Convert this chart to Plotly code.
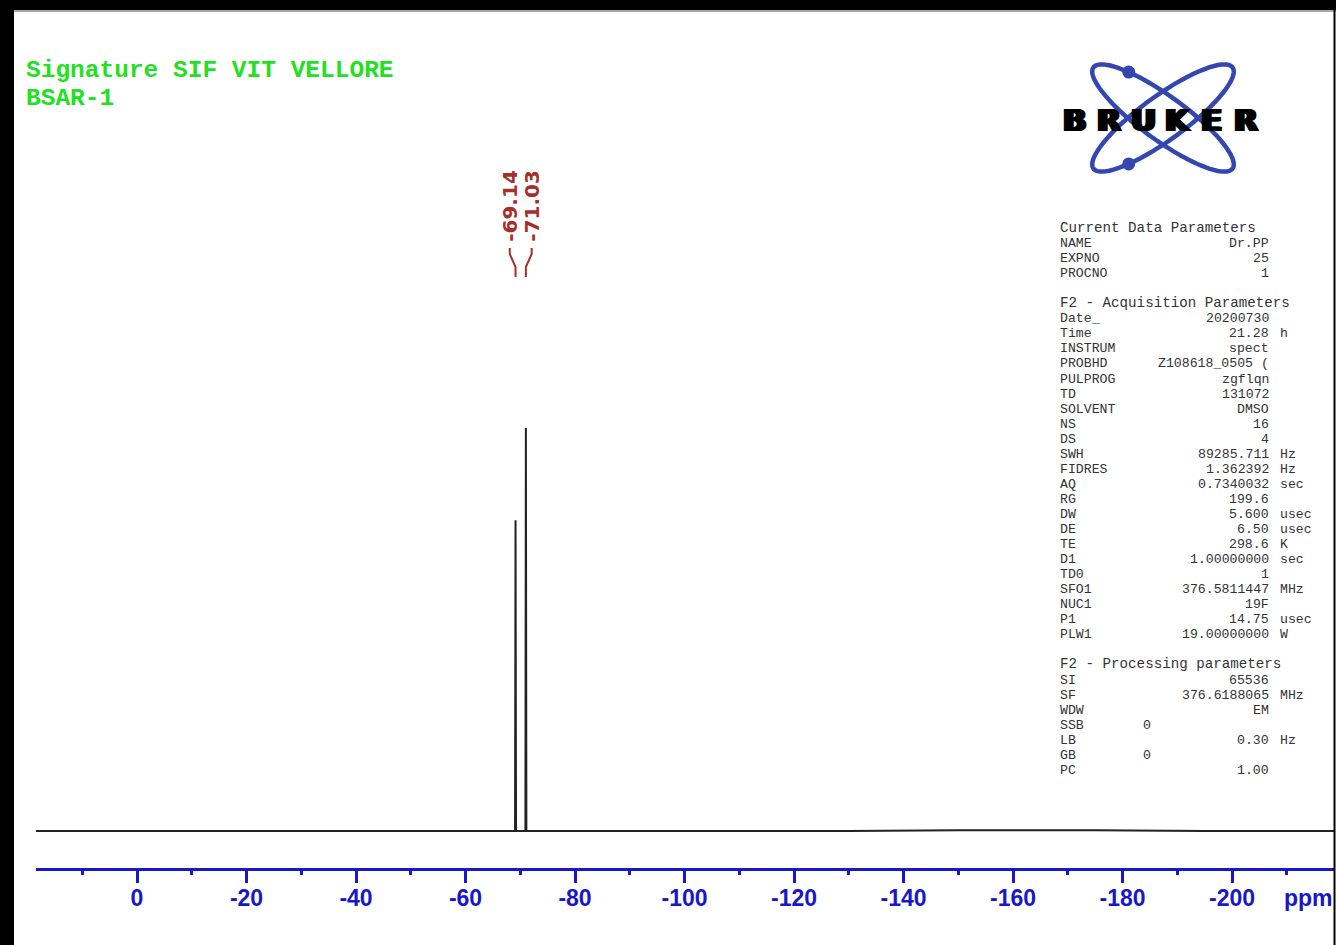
import numpy as np
import plotly.graph_objects as go

# ---------------- spectrum data (19F, ppm) ----------------
ppm = [18.45, -69.05, -69.14, -69.23, -70.94, -71.03, -71.12, -130.0, -150.0, -175.0, -195.0, -218.81]
intensity = [0.0, 0.0, 0.771, 0.0, 0.0, 1.0, 0.0, 0.0, 0.002, 0.002, 0.0, 0.0]

peak_ppm = [-69.14, -71.03]

tick_vals = [0, -20, -40, -60, -80, -100, -120, -140, -160, -180, -200]
tick_text = [str(v) for v in tick_vals]

title_lines = ["Signature SIF VIT VELLORE", "BSAR-1"]

# parameter listing: (name, value, unit); None marks a blank line
params = [
    ("Current Data Parameters", None, None),
    ("NAME", "Dr.PP", ""),
    ("EXPNO", "25", ""),
    ("PROCNO", "1", ""),
    None,
    ("F2 - Acquisition Parameters", None, None),
    ("Date_", "20200730", ""),
    ("Time", "21.28", "h"),
    ("INSTRUM", "spect", ""),
    ("PROBHD", "Z108618_0505 (", ""),
    ("PULPROG", "zgflqn", ""),
    ("TD", "131072", ""),
    ("SOLVENT", "DMSO", ""),
    ("NS", "16", ""),
    ("DS", "4", ""),
    ("SWH", "89285.711", "Hz"),
    ("FIDRES", "1.362392", "Hz"),
    ("AQ", "0.7340032", "sec"),
    ("RG", "199.6", ""),
    ("DW", "5.600", "usec"),
    ("DE", "6.50", "usec"),
    ("TE", "298.6", "K"),
    ("D1", "1.00000000", "sec"),
    ("TD0", "1", ""),
    ("SFO1", "376.5811447", "MHz"),
    ("NUC1", "19F", ""),
    ("P1", "14.75", "usec"),
    ("PLW1", "19.00000000", "W"),
    None,
    ("F2 - Processing parameters", None, None),
    ("SI", "65536", ""),
    ("SF", "376.6188065", "MHz"),
    ("WDW", "EM", ""),
    ("SSB", "0", "left"),
    ("LB", "0.30", "Hz"),
    ("GB", "0", "left"),
    ("PC", "1.00", ""),
]

# ---------------- page geometry (pixels) ----------------
W, H = 1336, 945
AX_LEFT, AX_RIGHT = 36, 1335          # horizontal extent of the ppm axis
ZERO_PX, PX_PER_PPM = 137, 5.475      # 0 ppm position and scale
AXIS_Y, BASE_Y, TOP_Y = 868, 831, 428  # axis line, baseline, tallest peak
PLOT_TOP = 100

x_left = (ZERO_PX - AX_LEFT) / PX_PER_PPM
x_right = -(AX_RIGHT - ZERO_PX) / PX_PER_PPM
unit_px = BASE_Y - TOP_Y
y_min = -(AXIS_Y - BASE_Y) / unit_px
y_max = (BASE_Y - PLOT_TOP) / unit_px


def px(x):
    return x / W


def py(y):
    return 1 - y / H


def ppm_px(v):
    return ZERO_PX - v * PX_PER_PPM


BLUE = "#1818c8"
RED = "#a3302d"
GREEN = "#22e022"
TEXT = "#333333"
LOGO_BLUE = "#3446b0"

fig = go.Figure()
fig.add_trace(go.Scatter(
    x=ppm, y=intensity, mode="lines",
    line=dict(color="#222222", width=2),
    hoverinfo="skip", showlegend=False,
))

shapes = []
annotations = []

# page frame
shapes.append(dict(type="rect", xref="paper", yref="paper", x0=0, x1=1, y0=py(10), y1=1,
                   fillcolor="black", line=dict(width=0), layer="above"))
shapes.append(dict(type="line", xref="paper", yref="paper", x0=0, x1=1, y0=py(11), y1=py(11),
                   line=dict(color="#888888", width=1.5), layer="above"))
shapes.append(dict(type="rect", xref="paper", yref="paper", x0=0, x1=px(14), y0=0, y1=1,
                   fillcolor="black", line=dict(width=0), layer="above"))
shapes.append(dict(type="line", xref="paper", yref="paper", x0=px(1334.5), x1=px(1334.5), y0=0, y1=py(10),
                   line=dict(color="black", width=2), layer="above"))

# title
TITLE_SIZE = 24.5
for i, t in enumerate(title_lines):
    annotations.append(dict(
        text=t, xref="paper", yref="paper", x=px(25), y=py(70 + 28 * i),
        xanchor="left", yanchor="middle", showarrow=False, borderpad=0,
        font=dict(family="Liberation Mono", size=TITLE_SIZE, color=GREEN, weight="bold"),
    ))

# peak labels with bracket-style connectors
center = float(np.mean(peak_ppm))
spread = 2.0
for k, p in enumerate(peak_ppm):
    side = 1 if p > center else -1
    lab_x = ppm_px(center + side * spread)
    pk_x = ppm_px(p)
    annotations.append(dict(
        text=f"{p:.2f}", xref="paper", yref="paper", x=px(lab_x), y=py(244),
        xanchor="center", yanchor="bottom", textangle=-90, showarrow=False,
        font=dict(family="DejaVu Sans", size=20, color=RED, weight="bold"),
    ))
    path = (f"M {px(lab_x)} {py(248)} L {px(lab_x)} {py(254)} "
            f"L {px(pk_x)} {py(267)} L {px(pk_x)} {py(277)}")
    shapes.append(dict(type="path", xref="paper", yref="paper", path=path,
                       line=dict(color=RED, width=2)))

# parameter listing laid out on a fixed character grid
TXT_X0, CHAR_W = 1059, 9.18
VALUE_END_COL, UNIT_COL, LEFT_VALUE_COL = 23, 24, 9
ROW_Y0, ROW_PITCH = 228.5, 15.05
BODY_SIZE, HEAD_SIZE = 13.2, 14.2
mono = dict(family="Liberation Mono", color=TEXT)


def param_text(s, x, y, anchor, size):
    annotations.append(dict(
        text=s.replace(" ", "\u00a0"), xref="paper", yref="paper", x=px(x), y=py(y),
        xanchor=anchor, yanchor="middle", showarrow=False, borderpad=0,
        font=dict(size=size, **mono),
    ))


for i, row in enumerate(params):
    if row is None:
        continue
    name, value, unit = row
    y = ROW_Y0 + ROW_PITCH * i
    if value is None:
        param_text(name, TXT_X0, y - 0.8, "left", HEAD_SIZE)
        continue
    param_text(name, TXT_X0, y, "left", BODY_SIZE)
    if unit == "left":
        param_text(value, TXT_X0 + LEFT_VALUE_COL * CHAR_W, y, "left", BODY_SIZE)
    else:
        param_text(value, TXT_X0 + VALUE_END_COL * CHAR_W, y, "right", BODY_SIZE)
        if unit:
            param_text(unit, TXT_X0 + UNIT_COL * CHAR_W, y, "left", BODY_SIZE)

# logo: two crossed orbits, two electrons, company name
cx, cy = 1163, 118
a, b = 86, 22
t = np.linspace(0, 2 * np.pi, 140)
orbits = []
for ang in (36, -36):
    th = np.radians(ang)
    ex = cx + a * np.cos(t) * np.cos(th) - b * np.sin(t) * np.sin(th)
    ey = cy + a * np.cos(t) * np.sin(th) + b * np.sin(t) * np.cos(th)
    orbits.append((ex, ey))
    path = "M " + " L ".join(f"{px(x_):.5f} {py(y_):.5f}" for x_, y_ in zip(ex, ey)) + " Z"
    shapes.append(dict(type="path", xref="paper", yref="paper", path=path,
                       line=dict(color=LOGO_BLUE, width=4.5)))
for (ex, ey), (tx, ty) in zip(orbits, [(1129, 72), (1130, 166)]):
    j = int(np.argmin((ex - tx) ** 2 + (ey - ty) ** 2))
    r = 6.5
    shapes.append(dict(type="circle", xref="paper", yref="paper",
                       x0=px(ex[j] - r), x1=px(ex[j] + r), y0=py(ey[j] + r), y1=py(ey[j] - r),
                       fillcolor=LOGO_BLUE, line=dict(width=0)))
for i, ch in enumerate("BRUKER"):
    annotations.append(dict(
        text=ch, xref="paper", yref="paper", x=px(1075 + 34.2 * i), y=py(120),
        xanchor="center", yanchor="middle", showarrow=False,
        font=dict(family="DejaVu Sans", size=31, color="black", weight="bold",
                  shadow="2px 0 0 #000, -2px 0 0 #000, 1px 0 0 #000, -1px 0 0 #000"),
    ))

# axis unit
annotations.append(dict(
    text="ppm", xref="paper", yref="paper", x=px(1308), y=py(898),
    xanchor="center", yanchor="middle", showarrow=False,
    font=dict(family="Liberation Sans", size=23, color=BLUE, weight="bold"),
))

fig.update_layout(
    width=W, height=H,
    margin=dict(l=0, r=0, t=0, b=0),
    paper_bgcolor="white", plot_bgcolor="white",
    showlegend=False,
    shapes=shapes, annotations=annotations,
    xaxis=dict(
        domain=[px(AX_LEFT), px(AX_RIGHT)],
        range=[x_left, x_right],
        showgrid=False, zeroline=False,
        showline=True, linecolor=BLUE, linewidth=2.5,
        ticks="outside", ticklen=12, tickwidth=2.5, tickcolor=BLUE,
        tickvals=tick_vals, ticktext=tick_text,
        tickfont=dict(family="Liberation Sans", size=23, color=BLUE, weight="bold"),
        ticklabelstandoff=-4,
        minor=dict(dtick=10, tick0=0, ticks="outside", ticklen=4, tickwidth=2.5, tickcolor=BLUE),
    ),
    yaxis=dict(
        domain=[py(AXIS_Y), py(PLOT_TOP)],
        range=[y_min, y_max],
        visible=False,
    ),
)

fig.write_html("out.html")
